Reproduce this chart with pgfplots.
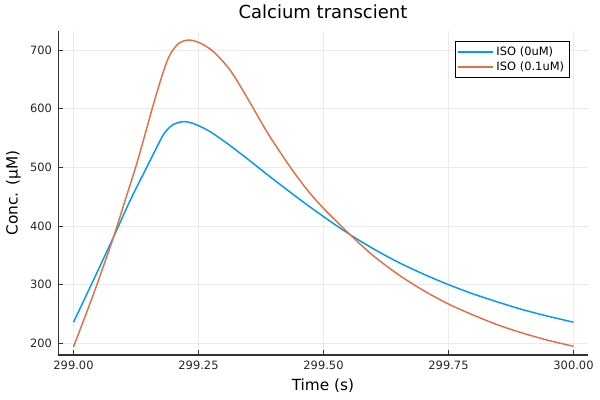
\documentclass[border=0pt]{standalone}
\usepackage{fontspec}
\setmainfont{DejaVu Sans}
\usepackage{pgfplots}
\pgfplotsset{compat=1.18}
\definecolor{jblue}{RGB}{0,154,250}
\definecolor{jred}{RGB}{227,111,71}
\definecolor{gridgray}{RGB}{235,235,235}
\begin{document}
\begin{tikzpicture}[x=1pt,y=1pt]
\useasboundingbox (0,0) rectangle (450,300);
\begin{axis}[
    at={(43.5pt,33.75pt)}, anchor=south west,
    scale only axis, width=397.5pt, height=243pt,
    xmin=298.969, xmax=300.029,
    ymin=180.1, ymax=732.4,
    xtick={299,299.25,299.5,299.75,300},
    xticklabels={299.00,299.25,299.50,299.75,300.00},
    ytick={200,300,400,500,600,700},
    yticklabels={200,300,400,500,600,700},
    axis x line*=bottom, axis y line*=left,
    axis line style={black!80, line width=0.75pt, -},
    tick align=inside,
    major tick length=4pt,
    tick style={black!80, line width=0.6pt},
    grid=major,
    grid style={gridgray, line width=0.5pt},
    tick label style={font=\fontsize{8.6}{10}\selectfont, text=black!85},
    xticklabel style={yshift=-1pt},
    yticklabel style={xshift=-1pt},
    title={Calcium transcient},
    title style={font=\fontsize{13.5}{16}\selectfont, at={(0.5,1)}, anchor=center, yshift=8.5pt},
    xlabel={Time (s)},
    xlabel style={font=\fontsize{11.5}{14}\selectfont, at={(axis description cs:0.5,0)}, anchor=center, yshift=-23pt},
    ylabel={Conc. (µM)},
    ylabel style={font=\fontsize{11.5}{14}\selectfont, at={(axis description cs:0,0.5)}, anchor=center, yshift=33.5pt},
    legend style={at={(0.966,0.969)}, anchor=north east, draw=black, line width=0.75pt,
        font=\fontsize{8.6}{10}\selectfont, inner sep=2pt, row sep=-1pt},
    legend cell align=left,
    legend image code/.code={\draw[#1, line width=1.1pt] (0pt,0pt) -- (26pt,0pt);},
    clip=false,
]
\addplot[color=jblue, line width=1.1pt, smooth, tension=0.5] coordinates {
(299.00,236) (299.04,308) (299.08,381) (299.113,443) (299.147,501)
(299.167,535) (299.18,556) (299.193,569) (299.205,575) (299.22,578)
(299.235,576) (299.25,571) (299.273,561) (299.307,541) (299.347,515)
(299.387,488) (299.413,471) (299.453,445) (299.50,416) (299.55,387)
(299.60,361) (299.65,338) (299.70,318) (299.75,300) (299.80,284)
(299.85,270) (299.90,257) (299.95,246) (300.00,236)
};
\addlegendentry{ISO (0uM)}
\addplot[color=jred, line width=1.1pt, smooth, tension=0.5] coordinates {
(299.00,194) (299.04,284) (299.08,381) (299.103,443) (299.125,502)
(299.145,562) (299.16,608) (299.18,664) (299.193,692) (299.21,711)
(299.23,717) (299.253,712) (299.28,697) (299.313,666) (299.345,622)
(299.383,566) (299.40,543) (299.433,501) (299.467,462) (299.50,430)
(299.533,402) (299.557,382) (299.60,349) (299.65,317) (299.70,290)
(299.75,267) (299.80,248) (299.85,231) (299.90,217) (299.95,205)
(300.00,195)
};
\addlegendentry{ISO (0.1uM)}
\end{axis}
\end{tikzpicture}
\end{document}
